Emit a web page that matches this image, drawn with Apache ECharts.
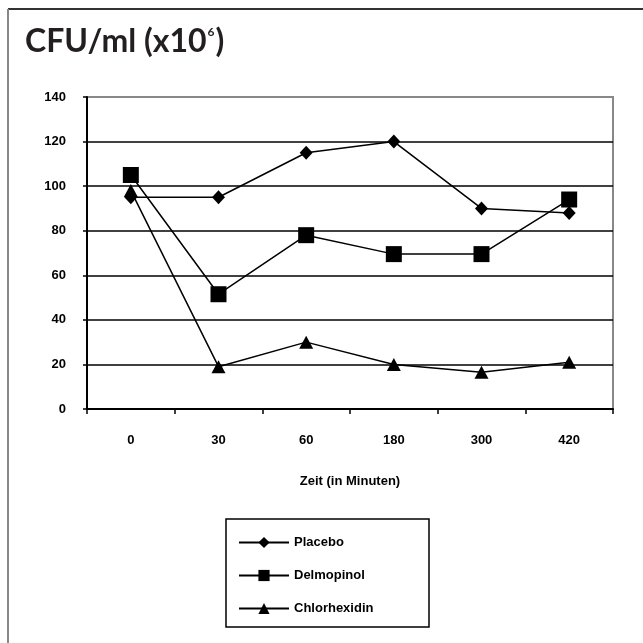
<!DOCTYPE html>
<html>
<head>
<meta charset="utf-8">
<script src="https://cdn.jsdelivr.net/npm/echarts@6/dist/echarts.min.js"></script>
<style>
html,body{margin:0;padding:0;background:#fff;}
#main{width:643px;height:643px;}
</style>
</head>
<body>
<div id="main"></div>
<script>
// Zeitpunkte (Minuten)
var zeiten = ['0', '30', '60', '180', '300', '420'];
// CFU/ml (x10^6)
var placebo = [95, 95, 115, 120, 90, 88];
var delmopinol = [105, 51.5, 78, 69.5, 69.5, 94];
var chlorhexidin = [98, 19, 30, 20, 16.5, 21];
var yTicks = [0, 20, 40, 60, 80, 100, 120, 140];

var boldTxt = {
    color: '#000',
    fontFamily: 'Liberation Sans, Arial',
    fontWeight: 'bold',
    fontSize: 13
};

function serie(name, data, symbol, size) {
    return {
        name: name,
        type: 'line',
        data: data,
        symbol: symbol,
        symbolSize: size,
        lineStyle: { color: '#000', width: 1.5 },
        itemStyle: { color: '#000' },
        z: 3
    };
}

var chart = echarts.init(document.getElementById('main'));
var option = {
    backgroundColor: '#fff',
    animation: false,
    title: {
        text: '{a|CFU/ml (x10}{s|6}{a|)}',
        left: 20,
        top: 21,
        textStyle: {
            rich: {
                a: { fontFamily: 'Lato', fontSize: 32, fontWeight: 'bold', color: '#231f20' },
                s: { fontFamily: 'Lato', fontSize: 12, fontWeight: 'bold', color: '#231f20', verticalAlign: 'top', padding: [0, 1, 14, 1] }
            }
        }
    },
    grid: {
        left: 87,
        right: 30,
        top: 97,
        bottom: 234,
        show: true,
        borderColor: '#888',
        borderWidth: 2
    },
    legend: {
        orient: 'vertical',
        left: 233,
        top: 531,
        itemWidth: 50,
        itemHeight: 14,
        itemGap: 20,
        textStyle: boldTxt,
        data: ['Placebo', 'Delmopinol', 'Chlorhexidin']
    },
    xAxis: {
        type: 'category',
        data: zeiten,
        boundaryGap: true,
        name: 'Zeit (in Minuten)',
        nameLocation: 'middle',
        nameGap: 66,
        nameTextStyle: boldTxt,
        axisLine: { lineStyle: { color: '#000', width: 2 } },
        axisTick: { show: true, length: 5, lineStyle: { color: '#000', width: 1.5 } },
        axisLabel: Object.assign({ margin: 25 }, boldTxt),
        splitLine: { show: false }
    },
    yAxis: {
        type: 'value',
        min: yTicks[0],
        max: yTicks[yTicks.length - 1],
        interval: 20,
        axisLine: { show: true, lineStyle: { color: '#000', width: 2 } },
        axisTick: { show: true, length: 4, lineStyle: { color: '#000', width: 1.5 } },
        axisLabel: Object.assign({ margin: 21 }, boldTxt),
        splitLine: {
            show: true,
            lineStyle: { color: ['#000', '#000', '#000', '#000', '#000', '#000', '#000', '#888'], width: 1.5 }
        }
    },
    graphic: [
        { type: 'line', shape: { x1: 8, y1: 9, x2: 643, y2: 9 }, style: { stroke: '#333', lineWidth: 2 } },
        { type: 'line', shape: { x1: 8, y1: 9, x2: 8, y2: 643 }, style: { stroke: '#888', lineWidth: 2 } },
        { type: 'rect', shape: { x: 226, y: 519, width: 203, height: 108 }, style: { fill: null, stroke: '#000', lineWidth: 1.5 } }
    ],
    series: [
        serie('Placebo', placebo, 'diamond', [13, 14]),
        serie('Delmopinol', delmopinol, 'rect', 16),
        serie('Chlorhexidin', chlorhexidin, 'triangle', [14, 13])
    ]
};
chart.setOption(option);
</script>
</body>
</html>
